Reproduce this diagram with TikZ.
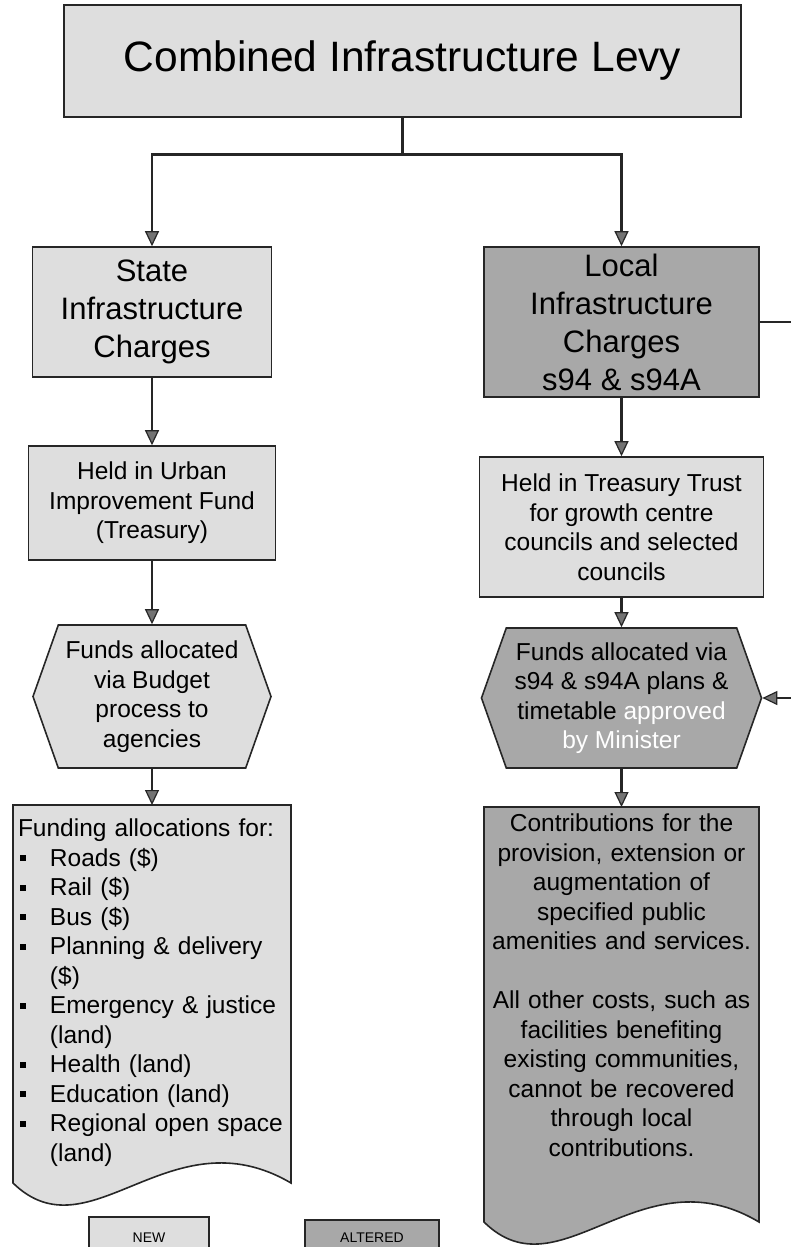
\documentclass[tikz,border=0pt]{standalone}
\usepackage{fontspec}
\setmainfont{Liberation Sans}
\usetikzlibrary{arrows.meta,shapes.symbols,positioning,calc,backgrounds}

\definecolor{newfill}{gray}{0.87}
\definecolor{altfill}{gray}{0.66}
\definecolor{edgegray}{gray}{0.15}

\newcommand{\sqbullet}{\makebox[32pt][l]{\hspace{2pt}\rule[5pt]{6pt}{6pt}}}

\tikzset{
  newbox/.style={draw=edgegray, line width=1.6pt, fill=newfill},
  altbox/.style={draw=edgegray, line width=1.6pt, fill=altfill},
  bigtext/.style={font=\fontsize{31}{38}\selectfont, align=center},
  bodytext/.style={font=\fontsize{24.5}{29.5}\selectfont, align=center},
  keytext/.style={font=\fontsize{14}{16}\selectfont, inner ysep=0pt, text depth=30pt, anchor=north},
  hexbox/.style={signal, signal to=east and west, signal pointer angle=141, inner sep=0pt},
  link/.style={draw=edgegray, line width=2.8pt, -{Triangle[length=15pt, width=14pt, fill=black!55, line width=1.2pt]}}
}

\begin{document}
\begin{tikzpicture}[x=1pt, y=-1pt]
  \useasboundingbox (0,0) rectangle (790,1247);

  % Levy
  \node[newbox, minimum width=677pt, minimum height=112pt, font=\fontsize{42.5}{50}\selectfont] (levy) at (402.5,61) {Combined Infrastructure Levy};

  % State side
  \node[newbox, bigtext, minimum width=239pt, minimum height=130pt] (sic) at (152,312) {State\\Infrastructure\\Charges};
  \node[newbox, bodytext, minimum width=247pt, minimum height=114pt] (urban) at (152,503) {Held in Urban\\Improvement Fund\\(Treasury)};
  \node[newbox, bodytext, hexbox, minimum width=238pt, minimum height=143pt] (hexl) at (152,696.5) {Funds allocated\\via Budget\\process to\\agencies};
  \node[bodytext, align=left, anchor=north, text width=268pt, inner xsep=4pt, inner ysep=14pt] (alloc) at (152,805) {Funding allocations for:\\
    \sqbullet Roads (\$)\\
    \sqbullet Rail (\$)\\
    \sqbullet Bus (\$)\\
    \sqbullet Planning \& delivery\\
    \hspace*{32pt}(\$)\\
    \sqbullet Emergency \& justice\\
    \hspace*{32pt}(land)\\
    \sqbullet Health (land)\\
    \sqbullet Education (land)\\
    \sqbullet Regional open space\\
    \hspace*{32pt}(land)};

  % Local side
  \node[altbox, bigtext, minimum width=275pt, minimum height=150pt] (lic) at (621.5,322) {Local\\Infrastructure\\Charges\\s94 \& s94A};
  \node[newbox, bodytext, minimum width=284pt, minimum height=140pt] (trust) at (621.5,527) {Held in Treasury Trust\\for growth centre\\councils and selected\\councils};
  \node[altbox, bodytext, hexbox, minimum width=280pt, minimum height=140pt] (hexr) at (621.5,698) {Funds allocated via\\s94 \& s94A plans \&\\timetable \textcolor{white}{approved}\\\textcolor{white}{by Minister}};
  \node[bodytext, anchor=north, text width=268pt, inner xsep=4pt, inner ysep=7pt] (contrib) at (621.5,807) {Contributions for the\\provision, extension or\\augmentation of\\specified public\\amenities and services.\\[29.5pt]All other costs, such as\\facilities benefiting\\existing communities,\\cannot be recovered\\through local\\contributions.};

  % document outlines
  \begin{scope}[on background layer]
    \draw[newbox] (13,805) -- (291,805) -- (291,1183) .. controls (170,1112) and (90,1258) .. (13,1183) -- cycle;
    \draw[altbox] (484,807) -- (759,807) -- (759,1222) .. controls (640,1151) and (560,1297) .. (484,1222) -- cycle;
  \end{scope}

  % key
  \node[newbox, keytext, minimum width=120pt, text height=26pt] (keynew) at (149,1216) {NEW};
  \node[altbox, keytext, minimum width=134pt, text height=23pt] (keyalt) at (372,1219) {ALTERED};

  % links
  \draw[link] (levy.south) -- ++(0,37) -| (sic.north);
  \draw[link] (levy.south) -- ++(0,37) -| (lic.north);
  \draw[link] (sic.south) -- (urban.north);
  \draw[link] (urban.south) -- (hexl.north);
  \draw[link] (hexl.south) -- (alloc.north);
  \draw[link] (lic.south) -- (trust.north);
  \draw[link] (trust.south) -- (hexr.north);
  \draw[link] (hexr.south) -- (contrib.north);
  \draw[link] (lic.east) -- ++(50,0) |- (hexr.east);
\end{tikzpicture}
\end{document}
